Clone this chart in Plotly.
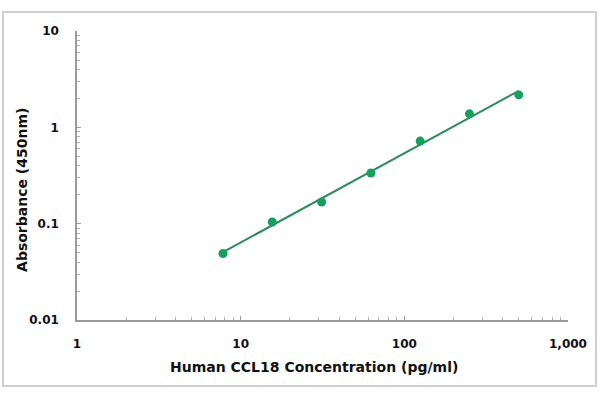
import numpy as np
import plotly.graph_objects as go

concentration = [7.8, 15.6, 31.25, 62.5, 125, 250, 500]
absorbance = [0.049, 0.104, 0.168, 0.336, 0.72, 1.38, 2.17]

x_tickvals = [1, 10, 100, 1000]
x_ticktext = ["1", "10", "100", "1,000"]
y_tickvals = [0.01, 0.1, 1, 10]
y_ticktext = ["0.01", "0.1", "1", "10"]

x_title = "Human CCL18 Concentration (pg/ml)"
y_title = "Absorbance (450nm)"

# power-law trend line fitted in log space
lx = np.log10(concentration)
ly = np.log10(absorbance)
b, a = np.polyfit(lx, ly, 1)
fit_x = [concentration[0], concentration[-1]]
fit_y = [10 ** (a + b * np.log10(v)) for v in fit_x]

x_minor = [m * d for d in (1, 10, 100) for m in range(2, 10)]
y_minor = [m * d for d in (0.01, 0.1, 1) for m in range(2, 10)]

fig = go.Figure()
fig.add_trace(go.Scatter(x=fit_x, y=fit_y, mode="lines",
                         line=dict(color="#2f8a5c", width=2), showlegend=False))
fig.add_trace(go.Scatter(x=concentration, y=absorbance, mode="markers",
                         marker=dict(color="#17a05d", size=9), showlegend=False))

font = dict(family="DejaVu Sans", size=12, color="#111", weight="bold")

fig.update_layout(
    width=600, height=400,
    margin=dict(l=77, r=32, t=31, b=80),
    paper_bgcolor="white", plot_bgcolor="white",
    font=font,
    xaxis=dict(
        type="log", range=[0, 3],
        tickvals=x_tickvals, ticktext=x_ticktext,
        showline=True, linecolor="#9a9a9a", linewidth=1.5,
        ticks="inside", ticklen=4, tickcolor="#9a9a9a",
        minor=dict(tickvals=x_minor, ticks="inside", ticklen=3,
                   tickcolor="#b0b0b0", showgrid=False),
        showgrid=False, zeroline=False,
        ticklabelstandoff=12,
    ),
    yaxis=dict(
        type="log", range=[-2, 1],
        tickvals=y_tickvals, ticktext=y_ticktext,
        showline=True, linecolor="#9a9a9a", linewidth=1.5,
        ticks="inside", ticklen=4, tickcolor="#9a9a9a",
        minor=dict(tickvals=y_minor, ticks="inside", ticklen=3,
                   tickcolor="#b0b0b0", showgrid=False),
        showgrid=False, zeroline=False,
        ticklabelstandoff=14,
    ),
)

fig.add_annotation(text=x_title, xref="paper", yref="paper",
                   x=0.4837, y=-0.1626, xanchor="center", yanchor="middle",
                   showarrow=False, font=dict(size=14))
fig.add_annotation(text=y_title, xref="paper", yref="paper",
                   x=-0.112, y=0.45, xanchor="center", yanchor="middle",
                   textangle=-90, showarrow=False, font=dict(size=14))

fig.add_shape(type="rect", xref="paper", yref="paper",
              x0=-0.1507, x1=1.057, y0=-0.228, y1=1.0657,
              line=dict(color="#cfcfcf", width=2), layer="below")

fig.write_html("out.html")
